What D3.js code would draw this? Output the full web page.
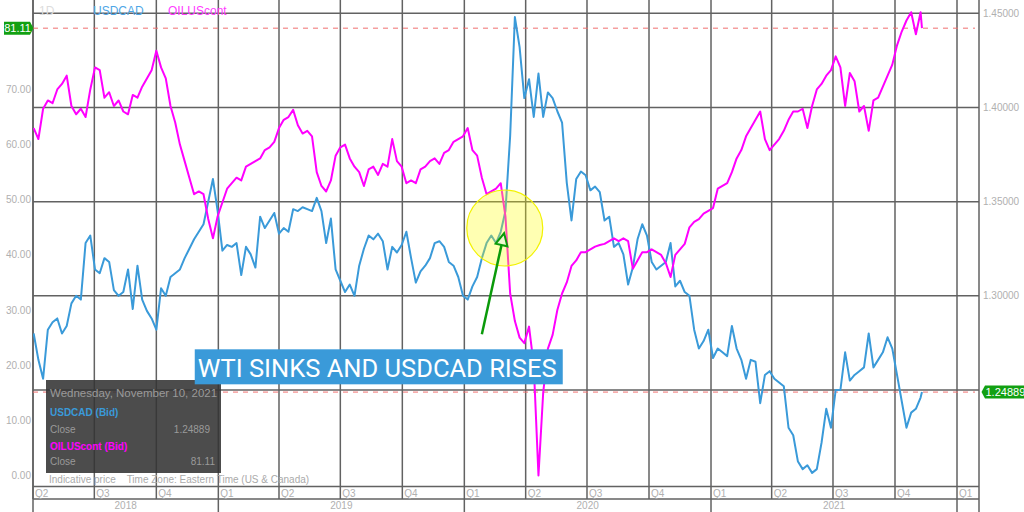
<!DOCTYPE html>
<meta charset="utf-8">
<style>
body { margin: 0; background: #fff; }
svg { display: block; font-family: "Liberation Sans", Arial, sans-serif; }
.tick { fill: #b0b0b0; font-size: 10px; }
.grid { stroke: #626262; stroke-width: 1.5; }
</style>
<body>
<script src="https://cdnjs.cloudflare.com/ajax/libs/d3/7.8.5/d3.min.js"></script>
<script>

// weekly closes (mondays), then the last quote day
var firstWeek = new Date(2018, 3, 2),
    lastWeek = new Date(2021, 10, 8),
    lastDay = new Date(2021, 10, 10);

var usdcad = [1.280, 1.266, 1.256, 1.282, 1.286, 1.288, 1.280, 1.284, 1.296, 1.300,
  1.298, 1.328, 1.332, 1.314, 1.312, 1.320, 1.318, 1.303, 1.300, 1.302,
  1.314, 1.293, 1.316, 1.298, 1.292, 1.288, 1.282, 1.304, 1.300, 1.310,
  1.312, 1.314, 1.320, 1.325, 1.330, 1.334, 1.338, 1.350, 1.362, 1.345,
  1.324, 1.327, 1.326, 1.328, 1.311, 1.326, 1.322, 1.315, 1.342, 1.336,
  1.340, 1.344, 1.333, 1.336, 1.334, 1.346, 1.345, 1.347, 1.346, 1.345,
  1.352, 1.345, 1.328, 1.341, 1.314, 1.308, 1.302, 1.306, 1.300, 1.316,
  1.325, 1.332, 1.330, 1.333, 1.329, 1.314, 1.326, 1.323, 1.327, 1.334,
  1.320, 1.307, 1.313, 1.316, 1.320, 1.328, 1.329, 1.326, 1.318, 1.316,
  1.310, 1.300, 1.298, 1.305, 1.310, 1.320, 1.328, 1.332, 1.328, 1.334,
  1.345, 1.385, 1.448, 1.432, 1.405, 1.415, 1.395, 1.418, 1.395, 1.408,
  1.405, 1.398, 1.392, 1.360, 1.340, 1.362, 1.366, 1.364, 1.356, 1.358,
  1.355, 1.340, 1.342, 1.326, 1.328, 1.322, 1.306, 1.315, 1.330, 1.338,
  1.332, 1.318, 1.314, 1.316, 1.318, 1.328, 1.305, 1.308, 1.302, 1.300,
  1.282, 1.272, 1.276, 1.282, 1.267, 1.272, 1.270, 1.268, 1.284, 1.272,
  1.266, 1.256, 1.266, 1.265, 1.243, 1.258, 1.260, 1.256, 1.254, 1.252,
  1.230, 1.226, 1.212, 1.208, 1.210, 1.206, 1.208, 1.222, 1.240, 1.230,
  1.250, 1.250, 1.270, 1.255, 1.258, 1.260, 1.262, 1.280, 1.262, 1.266,
  1.270, 1.278, 1.272, 1.258, 1.244, 1.230, 1.238, 1.240, 1.246, 1.24889];

var oil = [63, 61, 66.5, 68, 67.5, 70, 71, 72.5, 67, 65.5,
  66.5, 65, 70, 74, 73.5, 68.5, 69.5, 67, 68, 66,
  65.5, 69, 68.5, 70.5, 72, 73.5, 77, 74, 72, 67,
  64, 60, 57, 54, 51, 51.5, 51, 46.5, 43, 47,
  49.5, 52, 53, 54, 53.5, 56, 56.5, 57, 57.5, 59,
  59.5, 60.5, 63, 64.5, 65, 66.3, 63.5, 62, 62.5, 61.5,
  55, 52.5, 51.5, 53.5, 58, 59.5, 60, 57.5, 56, 55,
  52.5, 55.5, 56, 54.5, 56.5, 56, 61, 57, 56, 53,
  53.5, 53, 55.5, 56, 57, 57.5, 56.5, 58.5, 59, 60.5,
  61, 61.5, 63, 59, 58, 54, 51, 51.5, 52, 53,
  47, 33, 28, 25, 24, 27, 20, 0, 15, 23,
  25.5, 30, 33, 35, 38, 39, 40.5, 40.5, 41, 41.5,
  41.8, 42, 42.5, 43, 42.5, 43, 42.5, 37.5, 39, 40.5,
  40.5, 41, 40.5, 40, 38.5, 36, 40, 41, 42, 45,
  46, 46.5, 47.5, 48, 48.5, 52, 52.5, 53, 55, 57.5,
  59, 61.5, 63, 64.5, 66, 61, 59, 60, 61, 62.5,
  64.5, 66, 66, 66.5, 63, 67, 70, 71, 72.5, 73.5,
  76, 74, 67, 73, 71.5, 66, 67, 62.5, 68, 68.5,
  70.5, 72.5, 74.5, 78, 80.5, 82.5, 84, 80, 84, 81.11];

var oilTicks = [0, 10, 20, 30, 40, 50, 60, 70, 80];
var cadTicks = [1.25, 1.30, 1.35, 1.40, 1.45];
var yearLabels = ["2018", "2019", "2020", "2021"];
var legend = ["1D", "USDCAD", "OILUScont"];
var note = "WTI SINKS AND USDCAD RISES";

var dates = d3.timeMonday.range(firstWeek, d3.timeDay.offset(lastWeek, 1)).concat([lastDay]);

var W = 1024, H = 512,
    left = 33, right = 979,
    plotBottom = 486.5, qRow = 499, yRow = 512;

var blue = "#3a9ad9", pink = "#ff00ff";

var x = d3.scaleTime()
    .domain([new Date(2018, 3, 1), new Date(2022, 0, 1)])
    .range([33, 957]);
var yOil = d3.scaleLinear().domain([0, 80]).range([475.5, 34.3]);
var yCad = d3.scaleLinear().domain([1.25, 1.45]).range([390, 13.3]);

var lastOil = oil[oil.length - 1],
    lastCad = usdcad[usdcad.length - 1],
    yo = yOil(lastOil),
    yc = yCad(lastCad);

var svg = d3.select("body").append("svg")
    .attr("width", W)
    .attr("height", H);

svg.append("clipPath").attr("id", "plot")
  .append("rect")
    .attr("x", left).attr("y", 0)
    .attr("width", right - left).attr("height", plotBottom);

// horizontal grid from right axis
svg.append("g").selectAll("line")
    .data(cadTicks)
  .enter().append("line")
    .attr("class", "grid")
    .attr("x1", left).attr("x2", right)
    .attr("y1", function(d) { return yCad(d); })
    .attr("y2", function(d) { return yCad(d); });

// quarter lines
var quarters = d3.timeMonth.every(3).range(new Date(2018, 3, 1), new Date(2022, 0, 2));
svg.append("g").selectAll("line")
    .data(quarters)
  .enter().append("line")
    .attr("class", "grid")
    .attr("x1", function(d) { return x(d); })
    .attr("x2", function(d) { return x(d); })
    .attr("y1", 0)
    .attr("y2", function(d) { return d.getMonth() === 0 ? yRow : qRow; });

// frame of the time axis
[left, right].forEach(function(v) {
  svg.append("line").attr("class", "grid")
    .attr("x1", v).attr("x2", v).attr("y1", 0).attr("y2", yRow);
});
[plotBottom, qRow].forEach(function(v) {
  svg.append("line").attr("class", "grid")
    .attr("x1", left).attr("x2", right).attr("y1", v).attr("y2", v);
});

// quarter labels
svg.append("g").selectAll("text")
    .data(quarters)
  .enter().append("text")
    .attr("class", "tick")
    .attr("x", function(d) { return x(d) + 2; })
    .attr("y", 496.5)
    .text(function(d) { return "Q" + (Math.floor(d.getMonth() / 3) + 1); });

// year labels
svg.append("g").selectAll("text")
    .data(yearLabels)
  .enter().append("text")
    .attr("class", "tick")
    .attr("text-anchor", "middle")
    .attr("x", function(d) {
      var a = Math.max(left, x(new Date(+d, 0, 1))),
          b = Math.min(right, x(new Date(+d + 1, 0, 1)));
      return (a + b) / 2;
    })
    .attr("y", 509)
    .text(function(d) { return d; });

// left axis labels (the one under the price tag stays hidden)
svg.append("g").selectAll("text")
    .data(oilTicks.filter(function(d) { return Math.abs(yOil(d) - yo) > 9; }))
  .enter().append("text")
    .attr("class", "tick")
    .attr("text-anchor", "end")
    .attr("x", 31)
    .attr("y", function(d) { return yOil(d); })
    .attr("dy", "0.35em")
    .text(d3.format(".2f"));

// right axis labels
svg.append("g").selectAll("text")
    .data(cadTicks.filter(function(d) { return Math.abs(yCad(d) - yc) > 9; }))
  .enter().append("text")
    .attr("class", "tick")
    .attr("x", 983)
    .attr("y", function(d) { return yCad(d); })
    .attr("dy", "0.35em")
    .text(d3.format(".5f"));

// last price lines
[yo, yc].forEach(function(v) {
  svg.append("line")
    .attr("x1", left).attr("x2", 975)
    .attr("y1", v).attr("y2", v)
    .attr("stroke", "#f07070")
    .attr("stroke-width", 1)
    .attr("stroke-dasharray", "5,5");
});

// series
var lines = svg.append("g").attr("clip-path", "url(#plot)");
lines.append("path")
    .datum(usdcad)
    .attr("fill", "none")
    .attr("stroke", blue)
    .attr("stroke-width", 2)
    .attr("stroke-linejoin", "round")
    .attr("d", d3.line()
      .x(function(d, i) { return x(dates[i]); })
      .y(function(d) { return yCad(d); }));
lines.append("path")
    .datum(oil)
    .attr("fill", "none")
    .attr("stroke", pink)
    .attr("stroke-width", 2)
    .attr("stroke-linejoin", "round")
    .attr("d", d3.line()
      .x(function(d, i) { return x(dates[i]); })
      .y(function(d) { return yOil(d); }));

// highlight circle and arrow
svg.append("circle")
    .attr("cx", x(new Date(2020, 2, 1)))
    .attr("cy", yCad(1.336))
    .attr("r", 38)
    .attr("fill", "#ffff00")
    .attr("fill-opacity", 0.3)
    .attr("stroke", "#f2f200")
    .attr("stroke-width", 1.2);

var tail = [x(new Date(2020, 0, 27)), yCad(1.2796)],
    tip = [x(new Date(2020, 1, 29)), yCad(1.3332)];
var dx = tip[0] - tail[0], dy = tip[1] - tail[1],
    len = Math.sqrt(dx * dx + dy * dy),
    ux = dx / len, uy = dy / len;
var base = [tip[0] - ux * 12, tip[1] - uy * 12];
svg.append("line")
    .attr("x1", tail[0]).attr("y1", tail[1])
    .attr("x2", base[0]).attr("y2", base[1])
    .attr("stroke", "#0a9a0a")
    .attr("stroke-width", 2.5);
svg.append("polygon")
    .attr("points", [tip,
      [base[0] - uy * 6, base[1] + ux * 6],
      [base[0] + uy * 6, base[1] - ux * 6]].map(function(p) { return p.join(","); }).join(" "))
    .attr("fill", "#eef8d0")
    .attr("stroke", "#0a9a0a")
    .attr("stroke-width", 2)
    .attr("stroke-linejoin", "miter");

// tooltip panel
var tip2 = svg.append("g");
tip2.append("rect")
    .attr("x", 46).attr("y", 380)
    .attr("width", 175).attr("height", 93)
    .attr("fill", "#333")
    .attr("fill-opacity", 0.88);
tip2.append("text")
    .attr("x", 50).attr("y", 397)
    .attr("fill", "#9a9a9a").style("font-size", "11.5px")
    .text(d3.timeFormat("%A, %B %-d, %Y")(lastDay));
tip2.append("text")
    .attr("x", 50).attr("y", 416)
    .attr("fill", blue).style("font-size", "10px").style("font-weight", "bold")
    .text("USDCAD (Bid)");
tip2.append("text")
    .attr("x", 50).attr("y", 433)
    .attr("fill", "#9a9a9a").style("font-size", "10px")
    .text("Close");
tip2.append("text")
    .attr("x", 210).attr("y", 433).attr("text-anchor", "end")
    .attr("fill", "#9a9a9a").style("font-size", "10px")
    .text(d3.format(".5f")(lastCad));
tip2.append("text")
    .attr("x", 50).attr("y", 449.5)
    .attr("fill", pink).style("font-size", "10px").style("font-weight", "bold")
    .text("OILUScont (Bid)");
tip2.append("text")
    .attr("x", 50).attr("y", 465)
    .attr("fill", "#9a9a9a").style("font-size", "10px")
    .text("Close");
tip2.append("text")
    .attr("x", 215).attr("y", 465).attr("text-anchor", "end")
    .attr("fill", "#9a9a9a").style("font-size", "10px")
    .text(d3.format(".2f")(lastOil));

svg.append("text")
    .attr("x", 49).attr("y", 483)
    .attr("fill", "#aaa").style("font-size", "10px")
    .attr("xml:space", "preserve")
    .text("Indicative price    Time Zone: Eastern Time (US & Canada)");

// annotation box
var noteX = x(new Date(2018, 10, 27)), noteY = yCad(1.2716);
var noteBox = svg.append("rect")
    .attr("x", noteX).attr("y", noteY)
    .attr("height", 35)
    .attr("fill", "#3a9ad9");
var noteText = svg.append("text")
    .attr("x", noteX + 3).attr("y", noteY + 27.5)
    .attr("fill", "#fff")
    .style("font-family", "Roboto, sans-serif")
    .style("font-size", "22px")
    .text(note);
var tw = noteText.node().getComputedTextLength();
noteText.style("font-size", (22 * 359 / tw) + "px");
noteBox.attr("width", 368);

// legend
var legendX = [39, 93, 168], legendC = ["#dcdcdc", "#4da6e6", "#ff3cff"];
svg.append("g").selectAll("text")
    .data(legend)
  .enter().append("text")
    .attr("x", function(d, i) { return legendX[i]; })
    .attr("y", 15)
    .attr("fill", function(d, i) { return legendC[i]; })
    .style("font-size", "12px")
    .text(function(d) { return d; });

// last value tags
svg.append("polygon")
    .attr("points", [[4, yo - 6.5], [30, yo - 6.5], [33.5, yo], [30, yo + 6.5], [4, yo + 6.5]].join(" "))
    .attr("fill", "#12a012");
svg.append("text")
    .attr("x", 17.5).attr("y", yo).attr("dy", "0.36em")
    .attr("text-anchor", "middle")
    .attr("fill", "#fff").style("font-size", "11px")
    .text(d3.format(".2f")(lastOil));

svg.append("polygon")
    .attr("points", [[981.5, yc], [985, yc - 6.5], [1030, yc - 6.5], [1030, yc + 6.5], [985, yc + 6.5]].join(" "))
    .attr("fill", "#12a012");
svg.append("text")
    .attr("x", 985.5).attr("y", yc).attr("dy", "0.36em")
    .attr("fill", "#fff").style("font-size", "11px")
    .text(d3.format(".5f")(lastCad));

</script>
</body>
